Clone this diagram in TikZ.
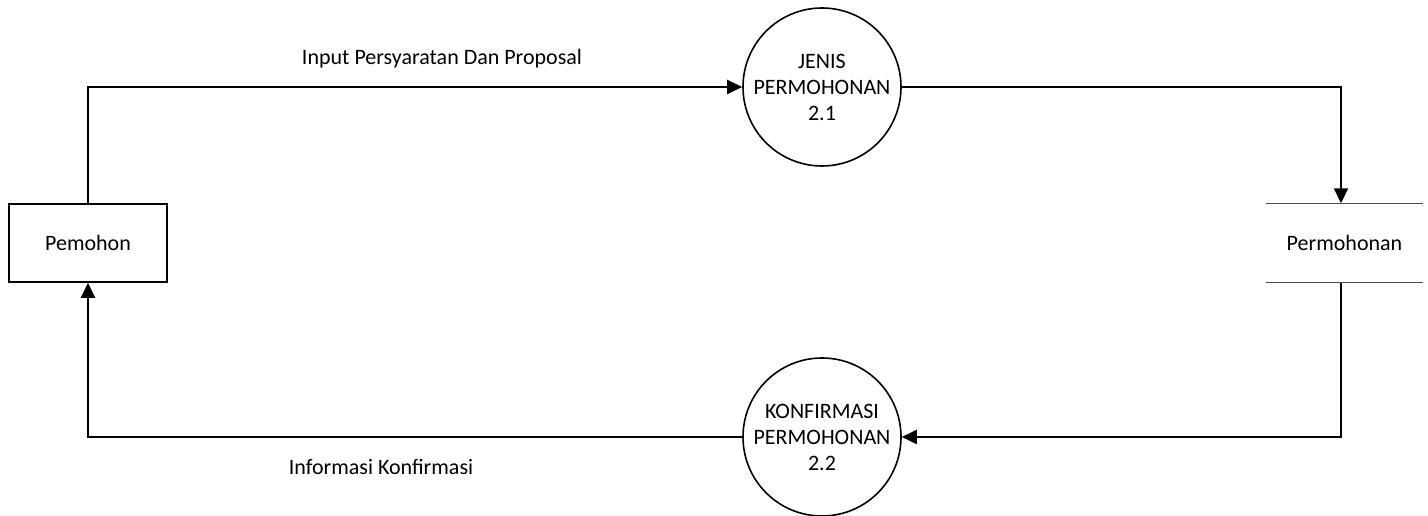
\documentclass[tikz,border=0pt]{standalone}
\usepackage{fontspec}
\setmainfont{Carlito}
\usetikzlibrary{arrows.meta}
\begin{document}
\begin{tikzpicture}[x=1pt,y=1pt,
  flow/.style={line width=2pt,-{Triangle[length=15pt,width=14pt]}},
  proc/.style={circle,draw,line width=1.6pt,minimum size=158pt,inner sep=0pt,align=center,font=\fontsize{22}{26}\selectfont},
  ent/.style={rectangle,draw,line width=1.6pt,minimum width=158pt,minimum height=78pt,inner sep=0pt,font=\fontsize{22}{26}\selectfont},
  lbl/.style={font=\fontsize{22}{26}\selectfont,inner sep=0pt}]
\useasboundingbox (0,0) rectangle (1428,516);
\node[ent] (pem) at (88,273) {Pemohon};
\node[proc] (p1) at (822,429) {JENIS\\PERMOHONAN\\2.1};
\node[proc] (p2) at (822,79) {KONFIRMASI\\PERMOHONAN\\2.2};
\node[minimum width=157pt,minimum height=79pt,inner sep=0pt,font=\fontsize{22}{26}\selectfont] (st) at (1344.5,273) {Permohonan};
\draw[line width=1pt,black!70] (st.north west) -- (st.north east);
\draw[line width=1pt,black!70] (st.south west) -- (st.south east);
\coordinate (c1) at (88,429);
\coordinate (c2) at (1341,429);
\coordinate (c3) at (1341,79);
\coordinate (c4) at (88,79);
\draw[flow] (pem.north) -- (c1) -- (p1.west);
\draw[flow] (p1.east) -- (c2) -- (st.north -| c2);
\draw[flow] (st.south -| c3) -- (c3) -- (p2.east);
\draw[flow] (p2.west) -- (c4) -- (pem.south);
\node[lbl] (l1) at (442,457) {Input Persyaratan Dan Proposal};
\node[lbl] (l2) at (381,49) {Informasi Konfirmasi};
\end{tikzpicture}
\end{document}
